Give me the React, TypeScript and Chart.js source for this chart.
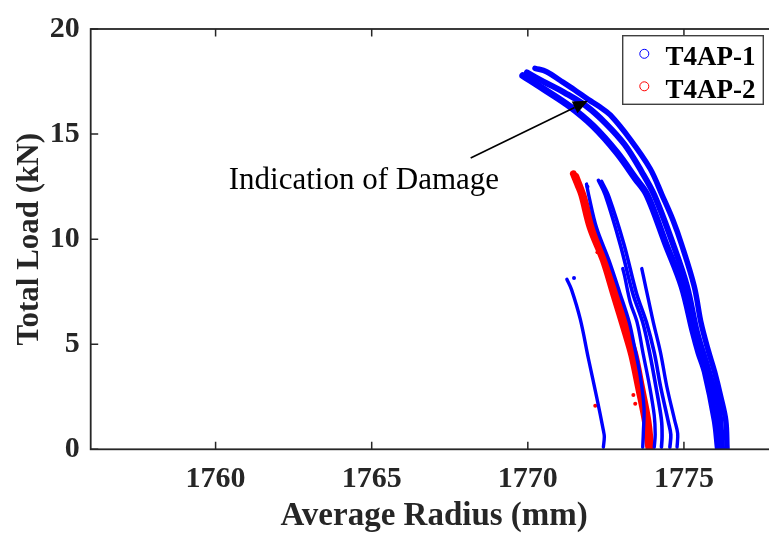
import React, { useEffect, useRef } from "react";
import { Chart, registerables } from "chart.js";

Chart.register(...registerables);

// ---- axis data ----
const xTicks = [1760, 1765, 1770, 1775];
const yTicks = [0, 5, 10, 15, 20];
const xMin = 1756;
const xMax = 1778;
const yMin = 0;
const yMax = 20;
const xTitle = "Average Radius (mm)";
const yTitle = "Total Load (kN)";
const seriesNames = ["T4AP-1", "T4AP-2"];
const seriesColors = ["#0000ff", "#ff0000"];

// ---- T4AP-1 (blue) curves: [radius mm, load kN] ----
const arcOuter = [
  [1770.23, 18.13], [1770.6, 17.97], [1771.04, 17.55], [1771.5, 17.1], [1771.94, 16.64],
  [1772.3, 16.3], [1772.64, 15.91], [1773.28, 14.75], [1773.92, 13.35], [1774.3, 12.1],
  [1774.65, 10.9], [1774.92, 9.77], [1775.33, 7.75], [1775.55, 6.0], [1775.78, 4.7],
  [1775.98, 3.7], [1776.18, 2.5], [1776.34, 1.37], [1776.38, 0.06],
];
const arcMid = [
  [1769.97, 17.93], [1770.5, 17.5], [1771.2, 16.95], [1771.9, 16.3], [1772.5, 15.5],
  [1773.1, 14.5], [1773.65, 13.2], [1774.05, 12.1], [1774.65, 9.77], [1775.1, 7.75],
  [1775.42, 5.57], [1775.8, 3.7], [1776.12, 1.9], [1776.22, 0.06],
];
const arcInner = [
  [1769.84, 17.78], [1770.5, 17.15], [1771.36, 16.3], [1772.1, 15.37], [1772.85, 14.12],
  [1773.45, 12.88], [1773.82, 12.1], [1774.42, 9.77], [1774.94, 7.75], [1775.3, 5.57],
  [1775.48, 4.6], [1775.68, 3.7], [1776.0, 1.37], [1776.1, 0.06],
];
const curveLeft = [
  [1771.25, 8.09], [1771.4, 7.6], [1771.68, 6.19], [1771.94, 4.32], [1772.21, 2.45],
  [1772.42, 0.9], [1772.45, 0.6], [1772.42, 0.1],
];
const curveNearRed = [
  [1771.88, 12.62], [1771.95, 12.1], [1772.2, 10.55], [1772.6, 8.99], [1772.95, 7.43],
  [1773.25, 6.04], [1773.4, 5.0], [1773.6, 3.5], [1773.72, 2.0], [1773.7, 0.8], [1773.68, 0.1],
];
const curveMidA = [
  [1772.26, 12.8], [1772.48, 12.1], [1772.96, 9.75], [1773.36, 7.43], [1773.68, 6.04],
  [1773.9, 4.6], [1774.1, 3.0], [1774.28, 1.4], [1774.3, 0.6], [1774.28, 0.1],
];
const curveMidB = [
  [1772.36, 12.75], [1772.6, 12.0], [1773.08, 9.75], [1773.48, 7.43], [1773.8, 6.04],
  [1774.05, 4.6], [1774.25, 3.0], [1774.5, 1.3], [1774.58, 0.7], [1774.55, 0.1],
];
const curveLowA = [
  [1773.04, 8.6], [1773.1, 8.25], [1773.28, 7.0], [1773.5, 6.04], [1773.7, 4.5],
  [1773.9, 3.0], [1774.05, 1.6], [1774.08, 0.7], [1774.05, 0.1],
];
const curveLowB = [
  [1773.65, 8.6], [1773.7, 8.25], [1773.88, 7.0], [1774.02, 6.04], [1774.25, 4.6],
  [1774.45, 3.0], [1774.7, 1.4], [1774.8, 0.75], [1774.78, 0.1],
];
const blueDots = [[1771.48, 8.15], [1771.91, 12.49]];

// ---- T4AP-2 (red) ----
const redMain = [
  [1771.46, 13.11], [1771.6, 12.6], [1771.73, 12.1], [1772.0, 10.55], [1772.42, 8.99],
  [1772.74, 7.43], [1773.12, 5.57], [1773.33, 4.48], [1773.55, 2.92], [1773.76, 1.37],
  [1773.87, 0.12],
];
const redEdge = [
  [1771.55, 13.0], [1771.78, 12.1], [1772.08, 10.55], [1772.5, 8.99], [1772.84, 7.43],
  [1773.22, 5.57], [1773.45, 4.48], [1773.66, 2.92], [1773.86, 1.37], [1773.95, 0.12],
];
const redDots = [
  [1772.16, 2.07], [1773.38, 2.58], [1773.44, 2.17], [1772.23, 9.38], [1773.65, 3.15],
  [1771.55, 12.9],
];

// ---- annotation ----
const annotationText = "Indication of Damage";
const annotationAt = [1764.75, 12.41];
const arrowTail = [1768.17, 13.86];
const arrowTip = [1771.93, 16.58];

const CW = 790;
const CH = 536;
const FONT = "'Liberation Serif', 'Times New Roman', serif";

const toXY = (arr: number[][]) => arr.map(([x, y]) => ({ x, y }));

export default function App() {
  const ref = useRef<HTMLCanvasElement | null>(null);

  useEffect(() => {
    const canvas = ref.current;
    if (!canvas) return;

    const lineDs = (label: string, pts: number[][], color: string, w: number) => ({
      label,
      data: toXY(pts),
      showLine: true,
      borderColor: color,
      backgroundColor: color,
      borderWidth: w,
      pointRadius: 0,
      fill: false,
      tension: 0.35,
      borderJoinStyle: "round" as const,
      borderCapStyle: "round" as const,
    });
    const dotDs = (label: string, pts: number[][], color: string) => ({
      label,
      data: toXY(pts),
      showLine: false,
      borderColor: color,
      backgroundColor: color,
      pointRadius: 2,
      pointBorderWidth: 0,
    });

    const blue = seriesColors[0];
    const red = seriesColors[1];

    const frame = {
      id: "frame",
      afterDatasetsDraw(chart: any) {
        const { ctx, chartArea: a, scales } = chart;
        ctx.save();
        // annotation arrow
        const tx = scales.x.getPixelForValue(arrowTail[0]);
        const ty = scales.y.getPixelForValue(arrowTail[1]);
        const hx = scales.x.getPixelForValue(arrowTip[0]);
        const hy = scales.y.getPixelForValue(arrowTip[1]);
        const ang = Math.atan2(hy - ty, hx - tx);
        const hl = 15;
        const hw = 6.5;
        const bx = hx - hl * Math.cos(ang);
        const by = hy - hl * Math.sin(ang);
        ctx.strokeStyle = "#000";
        ctx.lineWidth = 1.6;
        ctx.beginPath();
        ctx.moveTo(tx, ty);
        ctx.lineTo(bx, by);
        ctx.stroke();
        ctx.fillStyle = "#000";
        ctx.beginPath();
        ctx.moveTo(hx, hy);
        ctx.lineTo(bx + hw * Math.sin(ang), by - hw * Math.cos(ang));
        ctx.lineTo(bx - hw * Math.sin(ang), by + hw * Math.cos(ang));
        ctx.closePath();
        ctx.fill();
        // annotation text
        ctx.font = `31px ${FONT}`;
        ctx.textAlign = "center";
        ctx.textBaseline = "alphabetic";
        ctx.fillText(
          annotationText,
          scales.x.getPixelForValue(annotationAt[0]),
          scales.y.getPixelForValue(annotationAt[1])
        );

        // axes box & inward ticks
        ctx.strokeStyle = "#262626";
        ctx.lineWidth = 1.8;
        ctx.strokeRect(a.left, a.top, a.right - a.left, a.bottom - a.top);
        ctx.lineWidth = 1.5;
        const tl = 7.5;
        ctx.beginPath();
        xTicks.forEach((v) => {
          const p = scales.x.getPixelForValue(v);
          ctx.moveTo(p, a.bottom);
          ctx.lineTo(p, a.bottom - tl);
          ctx.moveTo(p, a.top);
          ctx.lineTo(p, a.top + tl);
        });
        yTicks.forEach((v) => {
          const p = scales.y.getPixelForValue(v);
          ctx.moveTo(a.left, p);
          ctx.lineTo(a.left + tl, p);
          ctx.moveTo(a.right, p);
          ctx.lineTo(a.right - tl, p);
        });
        ctx.stroke();

        // legend
        const lx = 622.7, ly = 35.7, lw = 140.6, lh = 68.6;
        ctx.fillStyle = "#fff";
        ctx.fillRect(lx, ly, lw, lh);
        ctx.strokeStyle = "#404040";
        ctx.lineWidth = 1.4;
        ctx.strokeRect(lx, ly, lw, lh);
        ctx.font = `bold 27px ${FONT}`;
        ctx.textAlign = "left";
        ctx.textBaseline = "alphabetic";
        seriesNames.forEach((name, i) => {
          const cy = 53.8 + i * 32.5;
          ctx.strokeStyle = seriesColors[i];
          ctx.lineWidth = 1;
          ctx.beginPath();
          ctx.arc(644.3, cy, 4.5, 0, Math.PI * 2);
          ctx.stroke();
          ctx.fillStyle = "#000";
          ctx.fillText(name, 665.5, cy + 11.5);
        });
        ctx.restore();
      },
    };

    const chart = new Chart(canvas, {
      type: "scatter",
      data: {
        datasets: [
          lineDs(seriesNames[0], arcInner, blue, 7),
          lineDs(seriesNames[0], arcMid, blue, 6),
          lineDs(seriesNames[0], arcOuter, blue, 5.5),
          lineDs(seriesNames[0], curveLeft, blue, 3.4),
          lineDs(seriesNames[0], curveNearRed, blue, 3.4),
          lineDs(seriesNames[0], curveMidA, blue, 3.6),
          lineDs(seriesNames[0], curveMidB, blue, 3.6),
          lineDs(seriesNames[0], curveLowA, blue, 3.4),
          lineDs(seriesNames[0], curveLowB, blue, 3.4),
          dotDs(seriesNames[0], blueDots, blue),
          lineDs(seriesNames[1], redMain, red, 7),
          lineDs(seriesNames[1], redEdge, red, 6),
          dotDs(seriesNames[1], redDots, red),
        ] as any,
      },
      options: {
        responsive: false,
        maintainAspectRatio: false,
        animation: false,
        devicePixelRatio: 1,
        layout: { padding: { top: 20.7, right: CW - 777.6, left: 0, bottom: 0 } },
        plugins: { legend: { display: false }, tooltip: { enabled: false } },
        scales: {
          x: {
            type: "linear",
            min: xMin,
            max: xMax,
            afterFit: (s: any) => {
              s.height = CH - 449.3;
            },
            afterBuildTicks: (s: any) => {
              s.ticks = xTicks.map((v) => ({ value: v }));
            },
            grid: { display: false, drawTicks: false },
            border: { display: false },
            ticks: {
              padding: 12,
              color: "#262626",
              callback: (v: any) => String(v),
              font: { family: FONT, size: 30, weight: "bold" },
              maxRotation: 0,
            },
            title: {
              display: true,
              text: xTitle,
              color: "#262626",
              padding: { top: 0, bottom: 0 },
              font: { family: FONT, size: 33, weight: "bold" },
            },
          },
          y: {
            type: "linear",
            min: yMin,
            max: yMax,
            afterFit: (s: any) => {
              s.width = 90.7;
            },
            afterBuildTicks: (s: any) => {
              s.ticks = yTicks.map((v) => ({ value: v }));
            },
            grid: { display: false, drawTicks: false },
            border: { display: false },
            ticks: {
              padding: 11,
              color: "#262626",
              callback: (v: any) => String(v),
              font: { family: FONT, size: 30, weight: "bold" },
            },
            title: {
              display: true,
              text: yTitle,
              color: "#262626",
              padding: { top: 11, bottom: 0 },
              font: { family: FONT, size: 31, weight: "bold" },
            },
          },
        },
      } as any,
      plugins: [frame],
    });

    return () => chart.destroy();
  }, []);

  return (
    <div
      style={{
        position: "fixed",
        left: 0,
        top: 0,
        width: 769,
        height: 533,
        overflow: "hidden",
        background: "#fff",
      }}
    >
      <canvas ref={ref} width={CW} height={CH} style={{ width: CW, height: CH, display: "block" }} />
    </div>
  );
}
